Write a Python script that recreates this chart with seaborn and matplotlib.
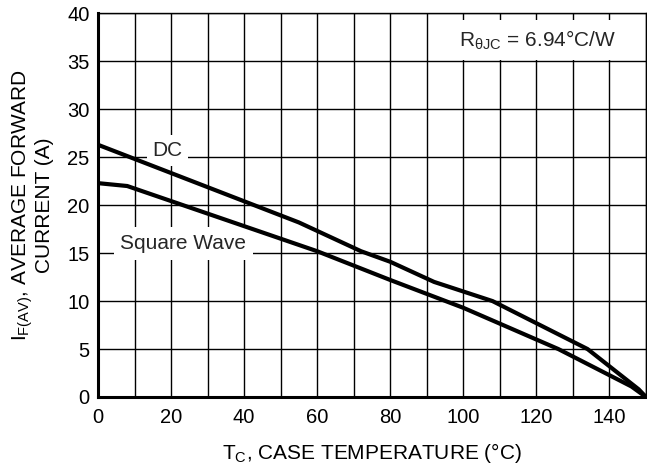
import matplotlib
matplotlib.use("Agg")
import matplotlib.pyplot as plt
import seaborn as sns
import pandas as pd

# Data
dc_temp = [0, 55, 72, 80, 92, 108, 134, 148, 150]
dc_current = [26.3, 18.2, 15.2, 14.1, 12.0, 10.0, 5.0, 0.8, 0.0]
sq_temp = [0, 8, 60, 80, 100, 126, 146, 150]
sq_current = [22.3, 22.0, 15.2, 12.2, 9.3, 5.0, 1.1, 0.0]
x_ticks = [0, 20, 40, 60, 80, 100, 120, 140]
y_ticks = [0, 5, 10, 15, 20, 25, 30, 35, 40]

df = pd.concat([
    pd.DataFrame({"T": dc_temp, "I": dc_current, "series": "DC"}),
    pd.DataFrame({"T": sq_temp, "I": sq_current, "series": "Square Wave"}),
])

sns.set_theme(style="white")
plt.rcParams["font.family"] = ["Liberation Sans", "DejaVu Sans"]
plt.rcParams["mathtext.fontset"] = "custom"
plt.rcParams["mathtext.rm"] = "Liberation Sans"
plt.rcParams["mathtext.it"] = "Liberation Sans"

FS = 15
TFS = 14.5

fig = plt.figure(figsize=(6.47, 4.66), dpi=100)
W, H = 647, 466
ax = fig.add_axes([98 / W, (H - 397) / H, (646 - 98) / W, (397 - 13.4) / H])

sns.lineplot(data=df, x="T", y="I", hue="series", palette=["black", "black"],
             estimator=None, sort=False, legend=False, linewidth=3.0, ax=ax,
             zorder=5, solid_joinstyle="miter")

ax.set_xlim(0, 150)
ax.set_ylim(0, 40)
ax.set_xticks(x_ticks)
ax.set_yticks(y_ticks)
ax.set_xticks(range(0, 151, 10), minor=True)
ax.grid(True, which="both", axis="x", color="black", linewidth=1.0)
ax.grid(True, which="major", axis="y", color="black", linewidth=1.0)
ax.tick_params(axis="both", which="both", length=0, labelsize=TFS, colors="black")
ax.tick_params(axis="x", pad=8)
ax.tick_params(axis="y", pad=6)

for side in ["left", "bottom"]:
    ax.spines[side].set_linewidth(2.2)
    ax.spines[side].set_color("black")
    ax.spines[side].set_zorder(6)
for side in ["top", "right"]:
    ax.spines[side].set_linewidth(1.0)
    ax.spines[side].set_color("black")
    ax.spines[side].set_zorder(6)

ax.set_xlabel("")
ax.set_ylabel("")
fig.text(371.5 / W, 1 - 453 / H, r"T$_\mathregular{C}$, CASE TEMPERATURE (°C)",
         fontsize=FS, ha="center", va="center", color="black")
fig.text(32 / W, 1 - 205 / H,
         "I$_\\mathregular{F(AV)}$, AVERAGE FORWARD\nCURRENT (A)",
         fontsize=FS, ha="center", va="center", rotation=90,
         multialignment="center", linespacing=1.0, color="black")

ax.text(19, 25.7, "DC", fontsize=FS, ha="center", va="center",
        bbox=dict(facecolor="white", edgecolor="none", pad=4), zorder=4)
ax.text(23.4, 16.0, "Square Wave", fontsize=FS, ha="center", va="center",
        bbox=dict(facecolor="white", edgecolor="none", pad=5), zorder=4)
ax.text(120.2, 37.2, r"R$_{\mathregular{\theta JC}}$ = 6.94°C/W", fontsize=FS,
        ha="center", va="center",
        bbox=dict(facecolor="white", edgecolor="none", pad=6), zorder=4)

fig.savefig("out.png", dpi=100)
